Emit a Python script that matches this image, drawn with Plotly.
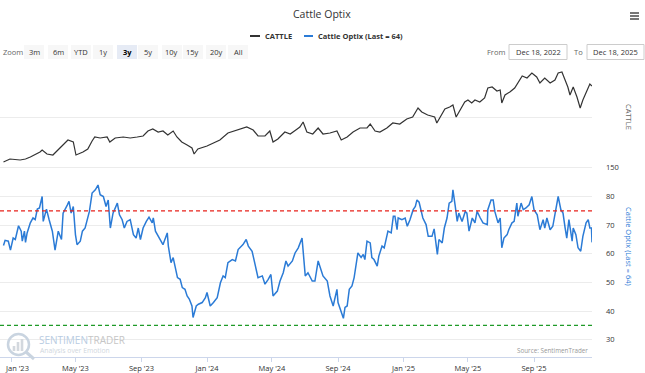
import plotly.graph_objects as go

# ---------------- data ----------------
cattle_dates = ["2022-12-18","2022-12-30","2023-01-18","2023-01-28","2023-02-06","2023-02-24","2023-02-28","2023-03-09","2023-03-20","2023-04-02",
"2023-04-12","2023-04-17","2023-04-27","2023-05-02","2023-05-15","2023-05-24","2023-06-01","2023-06-06","2023-06-16","2023-06-29",
"2023-07-04","2023-07-14","2023-07-29","2023-08-11","2023-08-24","2023-09-04","2023-09-13","2023-09-22","2023-10-02","2023-10-11",
"2023-10-20","2023-10-30","2023-11-06","2023-11-15","2023-11-25","2023-12-04","2023-12-08","2023-12-15","2024-01-01","2024-01-12",
"2024-01-25","2024-02-09","2024-02-26","2024-03-15","2024-03-27","2024-04-05","2024-04-18","2024-04-27","2024-05-03","2024-05-12",
"2024-05-25","2024-06-04","2024-06-17","2024-06-22","2024-06-28","2024-07-05","2024-07-16","2024-07-26","2024-08-04","2024-08-17",
"2024-08-30","2024-09-07","2024-09-18","2024-09-29","2024-10-12","2024-10-25","2024-10-31","2024-11-09","2024-11-18","2024-12-01",
"2024-12-12","2024-12-25","2025-01-07","2025-01-18","2025-01-28","2025-02-04","2025-02-15","2025-02-28","2025-03-04","2025-03-10",
"2025-03-19","2025-03-28","2025-04-03","2025-04-09","2025-04-16","2025-04-25","2025-05-01","2025-05-08","2025-05-14","2025-05-23",
"2025-06-01","2025-06-07","2025-06-15","2025-06-24","2025-06-30","2025-07-03","2025-07-09","2025-07-18","2025-07-27","2025-08-02",
"2025-08-10","2025-08-19","2025-08-28","2025-09-06","2025-09-12","2025-09-21","2025-10-01","2025-10-10","2025-10-16","2025-10-23",
"2025-10-29","2025-11-03","2025-11-07","2025-11-13","2025-11-20","2025-11-26","2025-12-01","2025-12-09","2025-12-14","2025-12-18"]
cattle_values = [155,158,157,158,160,165,167,163,162,169,
175,177,175,162,165,168,176,180,179,180,
175,179,180,179,180,181,186,188,185,186,
182,186,180,175,172,169,163,168,171,174,
177,184,187,190,187,181,181,186,175,178,
185,183,188,190,195,185,183,189,183,184,
186,177,180,185,189,189,193,186,185,189,
194,193,198,200,209,205,202,200,194,200,
208,210,212,200,207,215,217,214,217,215,
219,229,230,226,227,214,222,225,229,234,
241,239,244,240,234,239,234,237,244,245,
237,230,222,230,220,209,217,227,233,231]

optix_dates = ["2022-12-18","2022-12-21","2022-12-27","2022-12-31","2023-01-05","2023-01-09","2023-01-15","2023-01-20","2023-01-22","2023-01-26",
"2023-01-28","2023-01-31","2023-02-06","2023-02-11","2023-02-15","2023-02-19","2023-02-23","2023-02-28","2023-03-02","2023-03-08",
"2023-03-13","2023-03-19","2023-03-24","2023-03-30","2023-04-05","2023-04-08","2023-04-16","2023-04-19","2023-04-23","2023-04-27",
"2023-05-01","2023-05-04","2023-05-10","2023-05-14","2023-05-19","2023-05-23","2023-05-27","2023-06-01","2023-06-07","2023-06-12",
"2023-06-16","2023-06-22","2023-06-27","2023-07-01","2023-07-05","2023-07-10","2023-07-18","2023-07-22","2023-07-27","2023-07-31",
"2023-08-05","2023-08-11","2023-08-17","2023-08-22","2023-08-26","2023-08-30","2023-09-04","2023-09-10","2023-09-15","2023-09-21",
"2023-09-23","2023-09-27","2023-10-02","2023-10-08","2023-10-11","2023-10-19","2023-10-21","2023-10-26","2023-10-30","2023-11-07",
"2023-11-12","2023-11-16","2023-11-21","2023-11-25","2023-11-29","2023-12-04","2023-12-06","2023-12-12","2023-12-16","2023-12-23",
"2023-12-29","2024-01-01","2024-01-07","2024-01-13","2024-01-20","2024-01-26","2024-01-31","2024-02-04","2024-02-09","2024-02-17",
"2024-02-23","2024-02-28","2024-03-05","2024-03-08","2024-03-14","2024-03-18","2024-03-25","2024-03-31","2024-04-05","2024-04-13",
"2024-04-18","2024-04-24","2024-04-29","2024-05-03","2024-05-11","2024-05-16","2024-05-22","2024-05-27","2024-05-31","2024-06-08",
"2024-06-13","2024-06-19","2024-06-26","2024-07-02","2024-07-07","2024-07-15","2024-07-20","2024-07-26","2024-07-30","2024-08-04",
"2024-08-12","2024-08-17","2024-08-23","2024-08-27","2024-08-30","2024-09-01","2024-09-07","2024-09-11","2024-09-14","2024-09-18",
"2024-09-22","2024-09-27","2024-10-01","2024-10-05","2024-10-08","2024-10-14","2024-10-18","2024-10-21","2024-10-25","2024-10-31",
"2024-11-03","2024-11-07","2024-11-13","2024-11-16","2024-11-22","2024-11-26","2024-11-29","2024-12-03","2024-12-09","2024-12-13",
"2024-12-16","2024-12-20","2024-12-22","2024-12-29","2025-01-04","2025-01-08","2025-01-13","2025-01-19","2025-01-23","2025-01-26",
"2025-01-30","2025-02-03","2025-02-06","2025-02-12","2025-02-16","2025-02-23","2025-02-27","2025-03-05","2025-03-08","2025-03-14",
"2025-03-18","2025-03-23","2025-03-27","2025-04-01","2025-04-03","2025-04-07","2025-04-11","2025-04-14","2025-04-20","2025-04-26",
"2025-04-29","2025-05-03","2025-05-09","2025-05-14","2025-05-18","2025-05-24","2025-05-29","2025-06-06","2025-06-07","2025-06-13",
"2025-06-17","2025-06-20","2025-06-26","2025-06-30","2025-07-03","2025-07-07","2025-07-13","2025-07-16","2025-07-22","2025-07-26",
"2025-07-31","2025-08-02","2025-08-08","2025-08-12","2025-08-17","2025-08-23","2025-08-28","2025-09-01","2025-09-07","2025-09-08",
"2025-09-12","2025-09-18","2025-09-21","2025-09-25","2025-10-01","2025-10-06","2025-10-12","2025-10-16","2025-10-21","2025-10-25",
"2025-10-29","2025-11-01","2025-11-05","2025-11-11","2025-11-13","2025-11-18","2025-11-22","2025-11-27","2025-12-01","2025-12-07",
"2025-12-11","2025-12-14","2025-12-17","2025-12-18"]
optix_values = [62.9,64.7,64.4,61.3,65.5,65.0,69.8,67.9,64.4,67.9,
64.0,67.3,70.8,72.5,71.9,75.6,76.0,80.0,71.3,75.6,
71.9,67.9,61.3,67.9,65.0,74.2,77.1,78.3,74.2,76.5,
66.7,63.2,64.4,67.9,69.0,71.9,74.8,81.2,82.3,84.0,
80.6,80.0,76.5,78.8,69.0,74.2,77.7,73.6,71.9,69.0,
71.3,71.9,66.7,65.5,69.0,65.0,69.0,71.3,72.8,70.8,
72.5,67.9,66.1,64.4,63.2,67.3,62.7,56.9,58.7,51.7,
51.1,48.2,47.6,45.3,44.2,41.8,37.8,41.8,42.4,43.0,
44.7,46.5,41.8,43.0,44.7,49.9,52.3,51.7,56.9,58.0,
57.5,61.5,62.7,63.2,65.0,62.7,60.9,56.3,51.7,52.3,
49.4,51.1,52.8,45.3,47.0,50.5,53.4,57.5,55.7,57.5,
60.3,62.1,65.5,52.3,53.4,50.5,50.5,57.5,55.1,52.3,
50.5,45.3,41.8,44.7,47.6,43.0,39.5,37.5,41.3,41.8,
47.6,48.8,51.7,56.3,60.3,58.7,59.8,58.0,64.4,63.8,
58.7,58.0,55.7,59.2,62.7,62.1,64.4,67.9,67.3,73.1,
73.1,68.4,72.5,71.9,72.5,69.6,71.9,75.4,76.5,78.8,
78.0,74.8,72.5,70.2,66.1,66.1,68.7,59.8,65.0,63.8,
69.0,72.5,77.7,78.3,82.3,77.1,71.3,74.2,71.3,74.8,
74.2,67.9,72.5,70.8,74.8,72.5,70.8,70.2,75.4,78.8,
78.8,74.8,70.8,72.5,62.1,65.5,66.7,68.4,70.8,71.3,
77.7,73.1,77.7,75.4,76.0,77.1,80.0,75.4,73.6,72.5,
68.4,71.9,69.0,72.5,68.4,69.6,75.4,80.0,75.4,74.2,
69.0,65.5,71.9,64.4,69.0,66.7,62.1,60.9,66.1,70.8,
71.9,69.0,69.0,64.0]

assert len(cattle_dates) == len(cattle_values), (len(cattle_dates), len(cattle_values))
assert len(optix_dates) == len(optix_values), (len(optix_dates), len(optix_values))

upper_level = 75
lower_level = 35
last_value = 64

tick_dates = ["2023-01-01","2023-05-01","2023-09-01","2024-01-01","2024-05-01","2024-09-01",
              "2025-01-01","2025-05-01","2025-09-01"]
tick_labels = ["Jan '23","May '23","Sep '23","Jan '24","May '24","Sep '24","Jan '25","May '25","Sep '25"]
optix_ticks = [30, 40, 50, 60, 70, 80]
cattle_ticks = [150, 200]
cattle_ticklabels = ["150", ""]
zoom_buttons = ["3m","6m","YTD","1y","3y","5y","10y","15y","20y","All"]
selected_button = "3y"
from_date = "Dec 18, 2022"
to_date = "Dec 18, 2025"

# ---------------- layout helpers ----------------
W, H = 645, 373
PL, PR, PT, PB = 0, 592, 65, 357
def X(px):
    return (px - PL) / (PR - PL)
def Y(py):
    return (PB - py) / (PB - PT)

FONT = "Open Sans"
BLUE = "#2b7bd6"
DARK = "#333333"

shapes = []
annotations = []

def ann(text, px, py, size=7.5, color=DARK, xanchor="center", yanchor="middle", **kw):
    annotations.append(dict(text=text, x=X(px), y=Y(py), xref="paper", yref="paper",
                            xanchor=xanchor, yanchor=yanchor, showarrow=False,
                            font=dict(family=FONT, size=size, color=color), **kw))

def pline(x0, y0, x1, y1, color, width):
    shapes.append(dict(type="line", xref="paper", yref="paper", x0=X(x0), x1=X(x1),
                       y0=Y(y0), y1=Y(y1), line=dict(color=color, width=width)))

def prect(x0, y0, x1, y1, fill, line_color=None):
    shapes.append(dict(type="rect", xref="paper", yref="paper", x0=X(x0), x1=X(x1),
                       y0=Y(y1), y1=Y(y0), fillcolor=fill,
                       line=dict(color=line_color or fill, width=1 if line_color else 0)))

# the first label is pushed inside the page edge (as the reference does), so draw it separately
shown_tick_labels = [""] + tick_labels[1:]

fig = go.Figure()
fig.add_trace(go.Scatter(x=cattle_dates, y=cattle_values, mode="lines", name="CATTLE",
                         line=dict(color=DARK, width=1.2), xaxis="x", yaxis="y"))
fig.add_trace(go.Scatter(x=optix_dates, y=optix_values, mode="lines",
                         name=f"Cattle Optix (Last = {last_value})",
                         line=dict(color=BLUE, width=1.5), xaxis="x", yaxis="y2"))

# reference lines
shapes.append(dict(type="line", xref="paper", yref="y2", x0=0, x1=1, y0=upper_level, y1=upper_level,
                   line=dict(color="#e8221b", width=1.3, dash="4px,3px"), layer="above"))
shapes.append(dict(type="line", xref="paper", yref="y2", x0=0, x1=1, y0=lower_level, y1=lower_level,
                   line=dict(color="#1f9a28", width=1.3, dash="4px,3px"), layer="above"))

# title
ann("Cattle Optix", 322, 14, size=10.5)
# legend
pline(250, 36, 260, 36, DARK, 2)
ann("<b>CATTLE</b>", 263, 36, xanchor="left")
pline(304, 36, 313, 36, BLUE, 2)
ann(f"<b>Cattle Optix (Last = {last_value})</b>", 316, 36, xanchor="left")

# hamburger menu
for yy in (13, 16, 19):
    pline(630, yy, 639, yy, "#555555", 1.6)

# zoom buttons
ann("Zoom", 13, 52, color="#666666")
btn_centers = [34, 58, 81, 103, 127, 148, 172, 193, 216, 238]
for lbl, cx in zip(zoom_buttons, btn_centers):
    sel = lbl == selected_button
    prect(cx - 10, 45, cx + 10, 59, "#e6ebf5" if sel else "#f7f7f7")
    ann(f"<b>{lbl}</b>" if sel else lbl, cx, 52, color="#000000" if sel else DARK)

# date inputs
ann("From", 496, 52, color="#666666")
ann("To", 578, 52, color="#666666")
for (x0, x1, txt) in ((509, 567, from_date), (587, 644, to_date)):
    prect(x0, 44.5, x1, 59.5, "white", "#cccccc")
    ann(txt, (x0 + x1) / 2, 52)

# first x tick label
ann(tick_labels[0], 3, 367.5, xanchor="left")

# axis titles (rotated, right side)
ann("CATTLE", 629, 117, color="#666666", textangle=90)
ann(f"Cattle Optix (Last = {last_value})", 629, 246, color=BLUE, textangle=90)

# watermark
wm = "#c9d4e0"
shapes.append(dict(type="circle", xref="paper", yref="paper", x0=X(8), x1=X(29), y0=Y(355), y1=Y(334),
                   line=dict(color=wm, width=2.5)))
pline(26, 352, 34, 359, wm, 3)
for bx, btop in ((14, 346), (18, 342), (22, 339)):
    prect(bx - 1.3, btop, bx + 1.3, 351, "#d3d8de")
ann("<span style='color:#b9cce2'>SENTIMEN</span><span style='color:#c6c6c6'>TRADER</span>",
    37, 339.5, size=10, xanchor="left")
ann("Analysis over Emotion", 38, 350.5, size=6.8, color="#d0d6dd", xanchor="left")
ann("Source: SentimenTrader", 590, 350, size=6.3, color="#999999", xanchor="right")

fig.update_layout(
    width=W, height=H,
    margin=dict(l=PL, r=W - PR, t=PT, b=H - PB, autoexpand=False),
    paper_bgcolor="white", plot_bgcolor="white",
    showlegend=False,
    font=dict(family=FONT, size=8, color=DARK),
    xaxis=dict(type="date", range=["2022-12-11 12:00", "2025-12-18"], domain=[0, 1], anchor="y2",
               tickvals=tick_dates, ticktext=shown_tick_labels, ticks="outside", ticklen=4,
               tickcolor="#ccd6eb", showline=True, linecolor="#ccd6eb", linewidth=1,
               ticklabeloverflow="allow",
               showgrid=False, zeroline=False, tickfont=dict(family=FONT, size=7.5, color=DARK)),
    yaxis=dict(domain=[Y(172), 1], range=[145, 252], side="right", anchor="x",
               tickvals=cattle_ticks, ticktext=cattle_ticklabels, ticks="", ticklabelstandoff=13,
               showgrid=True, gridcolor="#ececec", gridwidth=1, zeroline=False, showline=False,
               tickfont=dict(family=FONT, size=7.5, color=DARK)),
    yaxis2=dict(domain=[0, Y(175)], range=[24, 87.5], side="right", anchor="x",
                tickvals=optix_ticks, ticks="", ticklabelstandoff=13,
                showgrid=True, gridcolor="#ececec", gridwidth=1, zeroline=False, showline=False,
                tickfont=dict(family=FONT, size=7.5, color=DARK)),
    shapes=shapes,
    annotations=annotations,
)

fig.write_html("out.html", config={"displayModeBar": False},
               post_script="document.body.style.margin='0';document.body.style.overflow='hidden';")
